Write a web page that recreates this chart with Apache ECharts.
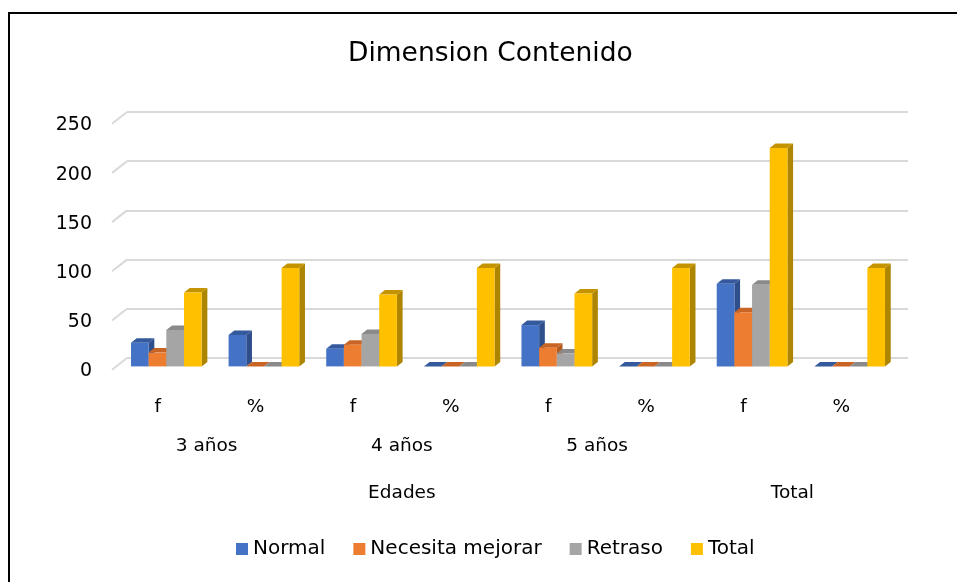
<!DOCTYPE html>
<html>
<head>
<meta charset="utf-8">
<script src="https://cdn.jsdelivr.net/npm/echarts@6/dist/echarts.min.js"></script>
<style>html,body{margin:0;padding:0;background:#fff}#c{width:957px;height:582px}</style>
</head>
<body>
<div id="c"></div>
<script>
// ---- data ----
var categories = ['f', '%', 'f', '%', 'f', '%', 'f', '%'];
var ageLabels = ['', '3 años', '', '4 años', '', '5 años', '', '', ''];
var groupLabels = ['', '', '', 'Edades', '', '', '', 'Total', ''];
var seriesNames = ['Normal', 'Necesita mejorar', 'Retraso', 'Total'];
var normal   = [24, 32, 18, 0, 42, 0, 84, 0];
var necesita = [14, 0, 22, 0, 19, 0, 55, 0];
var retraso  = [37, 0, 33, 0, 13, 0, 83, 0];
var total    = [75, 100, 73, 100, 74, 100, 222, 100];
var yTicks = [0, 50, 100, 150, 200, 250];

// ---- styles ----
var FONT = 'DejaVu Sans';
var palette = [
  ['#4472C4', '#2E4F8C', '#34599C'],
  ['#ED7D31', '#B45C20', '#C96524'],
  ['#A5A5A5', '#7B7B7B', '#8A8A8A'],
  ['#FFC000', '#AD8500', '#C49400']
];
var GROUP_FRAC = 0.724, FX = -9.5, FY = 8.4, DX = 5.7, DY = -4.5;

function makeRender(k) {
  var cols = palette[k];
  return function (params, api) {
    var ci = api.value(0), v = api.value(1);
    var p = api.coord([ci, v]), b = api.coord([ci, 0]);
    var band = api.size([1, 0])[0];
    var gw = band * GROUP_FRAC, w = gw / 4;
    var x0 = p[0] - gw / 2 + k * w + FX, x1 = x0 + w;
    var yT = p[1] + FY, yB = b[1] + FY;
    return {
      type: 'group',
      children: [
        { type: 'polygon', shape: { points: [[x1, yT], [x1 + DX, yT + DY], [x1 + DX, yB + DY], [x1, yB]] }, style: { fill: cols[1] } },
        { type: 'polygon', shape: { points: [[x0, yT], [x1, yT], [x1 + DX, yT + DY], [x0 + DX, yT + DY]] }, style: { fill: cols[2] } },
        { type: 'polygon', shape: { points: [[x0, yB], [x1, yB], [x1, yT], [x0, yT]] }, style: { fill: cols[0] } }
      ]
    };
  };
}

function slantRender(params, api) {
  var v = api.value(1);
  var p = api.coord([0, v]);
  var band = api.size([1, 0])[0];
  var left = p[0] - band / 2;
  return { type: 'line', shape: { x1: left - 15, y1: p[1] + 11.7, x2: left, y2: p[1] }, style: { stroke: '#D9D9D9', lineWidth: 2 } };
}

var valueArrays = [normal, necesita, retraso, total];
var series = [{
  type: 'custom', name: 'grid-slant', renderItem: slantRender, clip: false, silent: true, z: 1,
  data: yTicks.map(function (t) { return [0, t]; })
}];
valueArrays.forEach(function (arr, k) {
  series.push({
    type: 'custom', name: seriesNames[k], renderItem: makeRender(k), clip: false, z: 2 + k,
    itemStyle: { color: palette[k][0] },
    encode: { x: 0, y: 1 },
    data: arr.map(function (v, i) { return [i, v]; })
  });
});

var labelBase = { interval: 0, color: '#000', fontFamily: FONT, fontSize: 18.5, padding: [0, 36, 0, 0] };
function xAx(data, margin, gap) {
  return {
    type: 'category', data: data, boundaryGap: gap, position: 'bottom',
    axisLine: { show: false }, axisTick: { show: false }, splitLine: { show: false },
    axisLabel: Object.assign({}, labelBase, { margin: margin })
  };
}

var chart = echarts.init(document.getElementById('c'), null, { renderer: 'canvas' });
chart.setOption({
  animation: false,
  backgroundColor: '#fff',
  title: {
    text: 'Dimension Contenido', left: 343, top: 36,
    textStyle: { fontFamily: FONT, fontSize: 26.5, fontWeight: 'normal', color: '#000' }
  },
  legend: {
    data: seriesNames, bottom: 18, left: 231, icon: 'rect',
    itemWidth: 12, itemHeight: 12, itemGap: 28,
    textStyle: { fontFamily: FONT, fontSize: 20, color: '#000' }
  },
  grid: { left: 127, right: 49, top: 112, bottom: 224 },
  xAxis: [xAx(categories, 40, true), xAx(ageLabels, 79, false), xAx(groupLabels, 126, false)],
  yAxis: {
    type: 'value', min: 0, max: 250, interval: 50,
    axisLine: { show: false }, axisTick: { show: false },
    splitLine: { lineStyle: { color: '#D9D9D9', width: 2 } },
    axisLabel: { margin: 35, color: '#000', fontFamily: FONT, fontSize: 19, verticalAlign: 'top', lineHeight: 27 }
  },
  graphic: [{
    type: 'rect', shape: { x: 9, y: 13, width: 1000, height: 1000 },
    style: { fill: 'none', stroke: '#000', lineWidth: 2 }, silent: true
  }],
  series: series
});
</script>
</body>
</html>
